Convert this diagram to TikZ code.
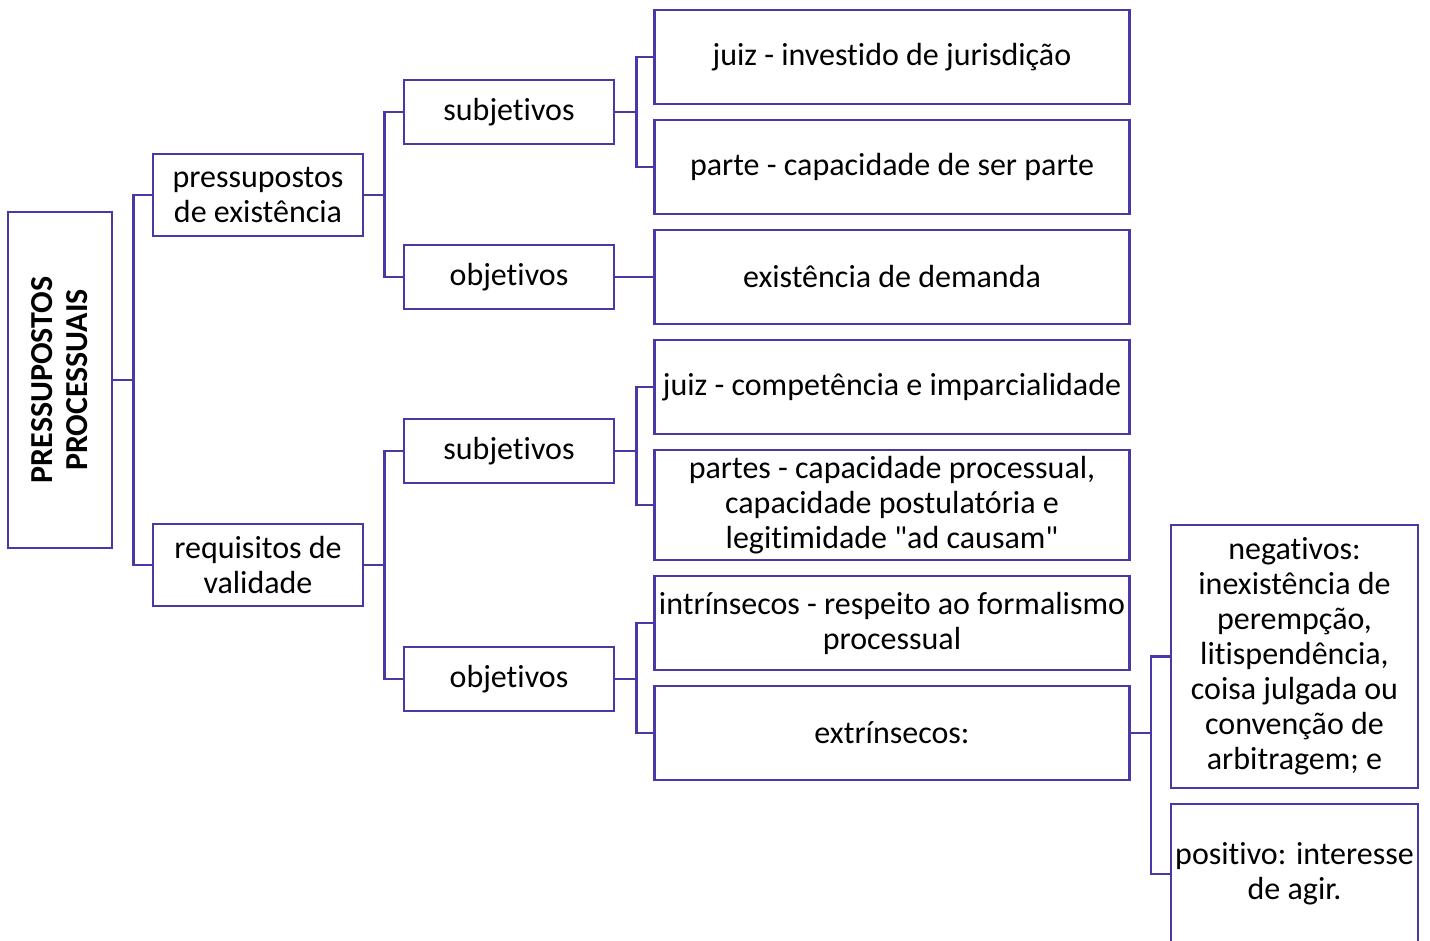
\documentclass[tikz,border=0pt]{standalone}
\usepackage{fontspec}
\defaultfontfeatures[\rmfamily]{Ligatures=NoCommon}
\setmainfont{Carlito}
\definecolor{ln}{RGB}{75,55,165}
\begin{document}
\begin{tikzpicture}[x=1pt,y=-1pt,
  box/.style={draw=ln,line width=2.5pt,inner sep=0pt,align=center,font=\fontsize{32}{35}\selectfont},
  midbox/.style={box,minimum width=210pt,minimum height=64pt},
  lvlbox/.style={box,minimum width=210pt,minimum height=82pt},
  leafbox/.style={box,minimum width=475pt,minimum height=94pt},
  conn/.style={draw=ln,line width=2.5pt}]
\useasboundingbox (0,0) rectangle (1430,940);
% root
\node[box,minimum width=104pt,minimum height=336pt] (root) at (60,380) {};
\node[rotate=90,align=center,font=\fontsize{32}{35}\selectfont\bfseries] (rootlbl) at (root.center) {PRESSUPOSTOS\\PROCESSUAIS};
% level 1
\node[lvlbox] (pde) at (258,195) {pressupostos\\de existência};
\node[lvlbox] (rdv) at (258,565) {requisitos de\\validade};
% level 2
\node[midbox] (subj1) at (509,112) {subjetivos};
\node[midbox] (obj1) at (509,277) {objetivos};
\node[midbox] (subj2) at (509,451) {subjetivos};
\node[midbox] (obj2) at (509,679) {objetivos};
% leaves
\node[leafbox] (l1) at (892,57) {juiz - investido de jurisdição};
\node[leafbox] (l2) at (892,167) {parte - capacidade de ser parte};
\node[leafbox] (l3) at (892,277) {existência de demanda};
\node[leafbox] (l4) at (892,387) {juiz - competência e imparcialidade};
\node[leafbox,minimum height=110pt] (l5) at (892,505) {partes - capacidade processual,\\capacidade postulatória e\\legitimidade "ad causam"};
\node[leafbox] (l6) at (892,623) {intrínsecos - respeito ao formalismo\\processual};
\node[leafbox] (l7) at (892,733) {extrínsecos:};
% level 4
\node[box,minimum width=247pt,minimum height=263pt] (neg) at (1294.5,656.5) {negativos:\\inexistência de\\perempção,\\litispendência,\\coisa julgada ou\\convenção de\\arbitragem; e};
\node[box,minimum width=247pt,minimum height=140pt] (pos) at (1294.5,874) {positivo: interesse\\de agir.};
% connectors
\draw[conn] (root.east) -- ++(20,0) |- (pde.west);
\draw[conn] (root.east) -- ++(20,0) |- (rdv.west);
\draw[conn] (pde.east) -- ++(20,0) |- (subj1.west);
\draw[conn] (pde.east) -- ++(20,0) |- (obj1.west);
\draw[conn] (rdv.east) -- ++(20,0) |- (subj2.west);
\draw[conn] (rdv.east) -- ++(20,0) |- (obj2.west);
\draw[conn] (subj1.east) -- ++(21,0) |- (l1.west);
\draw[conn] (subj1.east) -- ++(21,0) |- (l2.west);
\draw[conn] (obj1.east) -- (l3.west);
\draw[conn] (subj2.east) -- ++(21,0) |- (l4.west);
\draw[conn] (subj2.east) -- ++(21,0) |- (l5.west);
\draw[conn] (obj2.east) -- ++(21,0) |- (l6.west);
\draw[conn] (obj2.east) -- ++(21,0) |- (l7.west);
\draw[conn] (l7.east) -- ++(20,0) |- (neg.west);
\draw[conn] (l7.east) -- ++(20,0) |- (pos.west);
\end{tikzpicture}
\end{document}
